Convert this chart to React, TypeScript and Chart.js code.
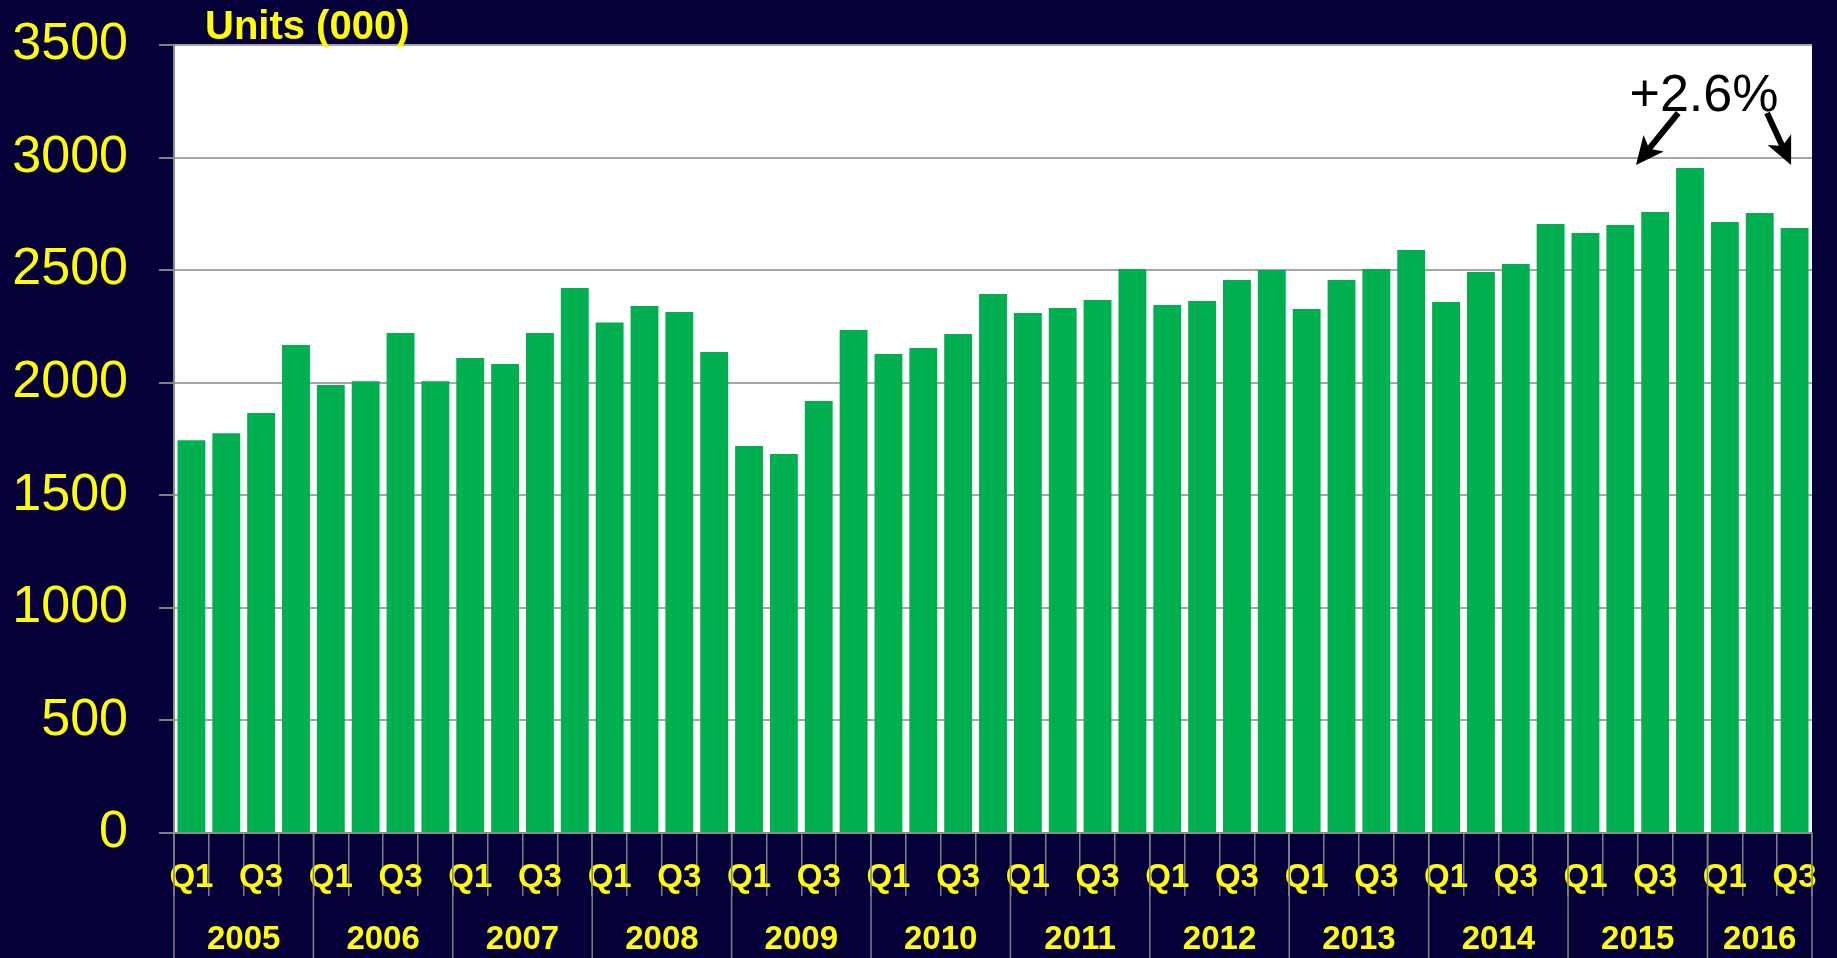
import React, { useEffect, useRef } from "react";
import { Chart, registerables } from "chart.js";

Chart.register(...registerables);

// ---------------- data ----------------
const years = ["2005", "2006", "2007", "2008", "2009", "2010", "2011", "2012", "2013", "2014", "2015", "2016"];
const quartersPerYear = [4, 4, 4, 4, 4, 4, 4, 4, 4, 4, 4, 3];
const quarterNames = ["Q1", "Q2", "Q3", "Q4"];
const quarterLabels: string[] = years.flatMap((_, i) => quarterNames.slice(0, quartersPerYear[i]));

const units = [
  1745, 1776, 1865, 2167,
  1990, 2007, 2221, 2007,
  2110, 2083, 2221, 2421,
  2268, 2341, 2314, 2136,
  1719, 1683, 1919, 2234,
  2127, 2154, 2216, 2394,
  2310, 2332, 2367, 2505,
  2345, 2363, 2456, 2501,
  2327, 2456, 2505, 2590,
  2358, 2492, 2527, 2705,
  2665, 2701, 2758, 2954,
  2714, 2754, 2687,
];

const yMin = 0;
const yMax = 3500;
const yStep = 500;

const unitsTitle = "Units (000)";
const changeLabel = "+2.6%";
const compareFrom = 42; // 2015 Q3
const compareTo = 46; // 2016 Q3

// ---------------- style ----------------
const BG = "#050038";
const YELLOW = "#FFFF00";
const GREEN = "#00B050";
const FONT = "'Liberation Sans', Arial, Helvetica, sans-serif";

function drawArrow(ctx: CanvasRenderingContext2D, x0: number, y0: number, x1: number, y1: number) {
  const ang = Math.atan2(y1 - y0, x1 - x0);
  const headLen = 28;
  const headW = 13;
  const notch = 7;
  const bx = x1 - Math.cos(ang) * (headLen - notch);
  const by = y1 - Math.sin(ang) * (headLen - notch);
  ctx.save();
  ctx.strokeStyle = "#000";
  ctx.fillStyle = "#000";
  ctx.lineWidth = 6;
  ctx.lineCap = "butt";
  ctx.beginPath();
  ctx.moveTo(x0, y0);
  ctx.lineTo(bx, by);
  ctx.stroke();
  const cx = x1 - Math.cos(ang) * headLen;
  const cy = y1 - Math.sin(ang) * headLen;
  const px = -Math.sin(ang);
  const py = Math.cos(ang);
  ctx.beginPath();
  ctx.moveTo(x1, y1);
  ctx.lineTo(cx + px * headW, cy + py * headW);
  ctx.lineTo(bx, by);
  ctx.lineTo(cx - px * headW, cy - py * headW);
  ctx.closePath();
  ctx.fill();
  ctx.restore();
}

const decorPlugin = {
  id: "decor",
  beforeDraw(chart: any) {
    const { ctx, chartArea } = chart;
    ctx.save();
    ctx.fillStyle = BG;
    ctx.fillRect(0, 0, chart.width, chart.height);
    ctx.fillStyle = "#FFFFFF";
    ctx.fillRect(chartArea.left, chartArea.top, chartArea.right - chartArea.left, chartArea.bottom - chartArea.top);
    ctx.restore();
  },
  afterDraw(chart: any) {
    const { ctx, chartArea } = chart;
    const xs = chart.scales.x;
    const ys = chart.scales.y;
    ctx.save();

    // year group separators and labels
    ctx.strokeStyle = "#7f7f7f";
    ctx.lineWidth = 1.5;
    ctx.fillStyle = YELLOW;
    ctx.font = `bold 33px ${FONT}`;
    ctx.textAlign = "center";
    ctx.textBaseline = "alphabetic";
    let start = 0;
    years.forEach((yr, i) => {
      const end = start + quartersPerYear[i];
      const x0 = xs.getPixelForValue(start - 0.5);
      const x1 = xs.getPixelForValue(end - 0.5);
      ctx.beginPath();
      ctx.moveTo(x0, chartArea.bottom);
      ctx.lineTo(x0, chart.height);
      if (i === years.length - 1) {
        ctx.moveTo(x1, chartArea.bottom);
        ctx.lineTo(x1, chart.height);
      }
      ctx.stroke();
      ctx.fillText(yr, (x0 + x1) / 2, chartArea.bottom + 116);
      start = end;
    });

    // axis title
    ctx.textAlign = "left";
    ctx.font = `bold 40px ${FONT}`;
    ctx.fillText(unitsTitle, chartArea.left + 31, chartArea.top - 6);

    // change annotation
    ctx.fillStyle = "#000";
    ctx.font = `52px ${FONT}`;
    ctx.textAlign = "center";
    ctx.fillText(changeLabel, xs.getPixelForValue(43.4), ys.getPixelForValue(3205));

    drawArrow(
      ctx,
      xs.getPixelForValue(compareFrom + 0.66),
      ys.getPixelForValue(3198),
      xs.getPixelForValue(compareFrom - 0.55),
      ys.getPixelForValue(2967)
    );
    drawArrow(
      ctx,
      xs.getPixelForValue(compareTo - 0.79),
      ys.getPixelForValue(3198),
      xs.getPixelForValue(compareTo - 0.1),
      ys.getPixelForValue(2967)
    );
    ctx.restore();
  },
};

export default function App() {
  const ref = useRef<HTMLCanvasElement | null>(null);

  useEffect(() => {
    document.body.style.margin = "0";
    document.body.style.background = BG;
    const canvas = ref.current;
    if (!canvas) return;
    const chart = new Chart(canvas, {
      type: "bar",
      data: {
        labels: quarterLabels,
        datasets: [
          {
            label: "Units (000)",
            data: units,
            backgroundColor: GREEN,
            borderWidth: 0,
            barPercentage: 0.8,
            categoryPercentage: 1,
          },
        ],
      },
      options: {
        responsive: false,
        animation: false,
        devicePixelRatio: 1,
        layout: { padding: { left: 0, top: 45, right: 25, bottom: 0 } },
        plugins: {
          legend: { display: false },
          tooltip: { enabled: false },
          title: { display: false },
        },
        scales: {
          x: {
            type: "category",
            offset: true,
            grid: {
              display: true,
              offset: true,
              drawOnChartArea: false,
              drawTicks: true,
              tickLength: 63,
              color: "#7f7f7f",
              lineWidth: 1.5,
            },
            border: { display: true, color: "#8c8c8c", width: 2 },
            ticks: {
              autoSkip: false,
              maxRotation: 0,
              minRotation: 0,
              padding: -38,
              color: YELLOW,
              font: { family: FONT, size: 33, weight: "bold" },
              callback: (_v: any, idx: number) => (idx % 2 === 0 ? quarterLabels[idx] : ""),
            },
            afterFit: (s: any) => {
              s.height = 125;
              s.paddingLeft = 0;
              s.paddingRight = 0;
              s.paddingTop = 0;
              s.paddingBottom = 0;
            },
          },
          y: {
            type: "linear",
            min: yMin,
            max: yMax,
            grid: {
              color: "#a6a6a6",
              lineWidth: 2,
              tickLength: 15,
              tickColor: "#7f7f7f",
            },
            border: { display: true, color: "#8c8c8c", width: 2 },
            ticks: {
              stepSize: yStep,
              padding: 31,
              color: YELLOW,
              font: { family: FONT, size: 52 },
              callback: (v: any) => String(v),
            },
            afterFit: (s: any) => {
              s.width = 174;
              s.paddingTop = 0;
              s.paddingBottom = 0;
              s.paddingLeft = 0;
              s.paddingRight = 0;
            },
          },
        },
      },
      plugins: [decorPlugin],
    });
    return () => chart.destroy();
  }, []);

  return (
    <div style={{ width: 1837, height: 958, background: BG }}>
      <canvas ref={ref} width={1837} height={958} style={{ display: "block" }} />
    </div>
  );
}
